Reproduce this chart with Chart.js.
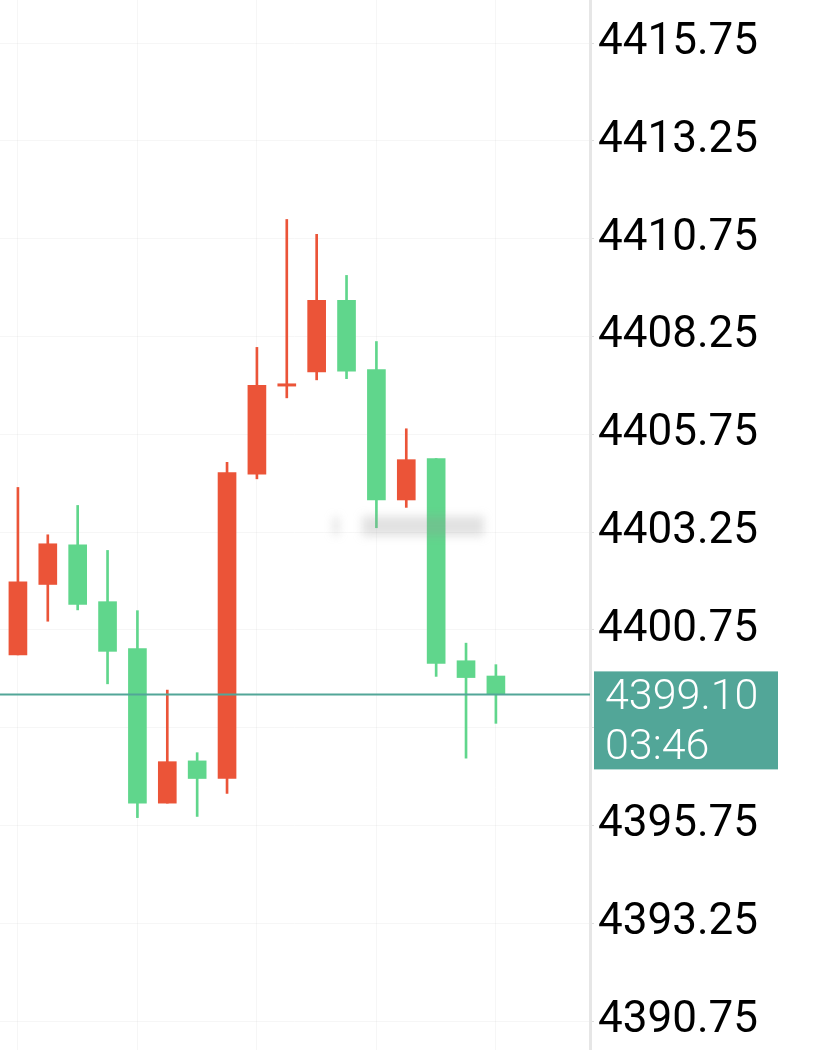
<!DOCTYPE html>
<html>
<head>
<meta charset="utf-8">
<title>Candles</title>
<script src="https://cdn.jsdelivr.net/npm/chart.js@4/dist/chart.umd.min.js"></script>
<style>
  html, body { margin: 0; padding: 0; background: #fff; }
  #wrap { position: relative; width: 813px; height: 1050px; }
</style>
</head>
<body>
<div id="wrap"><canvas id="kline"></canvas></div>
<script>
(function () {
  "use strict";

  // OHLC per minute bar, oldest first (red = up, green = down)
  var opens  = [4400.11, 4401.91, 4402.92, 4401.47, 4400.27, 4396.32, 4397.40, 4396.95, 4404.73, 4406.98, 4407.34, 4409.17, 4407.40, 4404.07, 4405.13, 4399.96, 4399.57];
  var highs  = [4404.39, 4403.18, 4403.93, 4402.78, 4401.24, 4399.21, 4397.61, 4405.03, 4407.97, 4411.24, 4410.86, 4409.81, 4408.12, 4405.89, 4405.13, 4400.41, 4399.86];
  var lows   = [4400.11, 4400.97, 4401.26, 4399.37, 4395.95, 4396.32, 4395.98, 4396.57, 4404.61, 4406.68, 4407.14, 4407.17, 4403.36, 4403.88, 4399.56, 4397.47, 4398.36];
  var closes = [4401.98, 4402.95, 4401.40, 4400.20, 4396.32, 4397.38, 4396.95, 4404.77, 4407.00, 4407.04, 4409.17, 4407.36, 4404.07, 4405.10, 4399.89, 4399.53, 4399.10];

  var yTicks = [4390.75, 4393.25, 4395.75, 4398.25, 4400.75, 4403.25, 4405.75, 4408.25, 4410.75, 4413.25, 4415.75];
  var xGridAt = [0, 4, 8, 12, 16];

  var lastPrice = 4399.10;
  var countdown = "03:46";

  var UP = "#eb5438";
  var DOWN = "#60d68c";
  var TEAL = "#52a698";

  function colorAt(i) {
    return closes[i] >= opens[i] ? UP : DOWN;
  }

  var wicks = opens.map(function (o, i) { return { x: i, y: [lows[i], highs[i]] }; });
  var bodies = opens.map(function (o, i) { return { x: i, y: [o, closes[i]] }; });

  var priceTag = {
    id: "priceTag",
    afterDatasetsDraw: function (chart) {
      var ctx = chart.ctx;
      // blurred watermark left by the app
      ctx.save();
      ctx.filter = "blur(5px)";
      ctx.fillStyle = "rgba(150,150,150,0.28)";
      ctx.fillRect(333, 517, 6, 18);
      ctx.fillRect(362, 516, 122, 20);
      ctx.restore();
    },
    afterDraw: function (chart) {
      var ctx = chart.ctx;
      var area = chart.chartArea;
      var y = chart.scales.y.getPixelForValue(lastPrice);
      ctx.save();
      ctx.strokeStyle = TEAL;
      ctx.lineWidth = 2;
      ctx.beginPath();
      ctx.moveTo(area.left, y);
      ctx.lineTo(area.right, y);
      ctx.stroke();

      var top = y - 23;
      ctx.fillStyle = TEAL;
      ctx.fillRect(area.right + 4, top, 184, 98);
      ctx.fillStyle = "#fff";
      ctx.font = "300 43px Roboto";
      ctx.textAlign = "left";
      ctx.textBaseline = "alphabetic";
      ctx.fillText(lastPrice.toFixed(2), area.right + 15, top + 38);
      ctx.fillText(countdown, area.right + 15, top + 88);
      ctx.restore();
    }
  };

  function init() {
    var canvas = document.getElementById("kline");
    new Chart(canvas, {
      type: "bar",
      data: {
        datasets: [
          {
            label: "wick",
            data: wicks,
            backgroundColor: function (c) { return colorAt(c.dataIndex); },
            barThickness: 2,
            grouped: false,
            order: 2
          },
          {
            label: "body",
            data: bodies,
            backgroundColor: function (c) { return colorAt(c.dataIndex); },
            barThickness: 18,
            grouped: false,
            order: 1
          }
        ]
      },
      options: {
        responsive: true,
        maintainAspectRatio: false,
        animation: false,
        layout: { padding: 0 },
        plugins: { legend: { display: false }, tooltip: { enabled: false } },
        scales: {
          x: {
            type: "linear",
            min: -0.6,
            max: 19.15,
            offset: false,
            afterBuildTicks: function (s) {
              s.ticks = xGridAt.map(function (v) { return { value: v }; });
            },
            afterFit: function (s) {
              s.height = 0;
              s.paddingLeft = 0;
              s.paddingRight = 0;
            },
            ticks: { display: false },
            border: { display: false },
            grid: { color: "rgba(0,0,0,0.035)", drawTicks: false, offset: false }
          },
          y: {
            position: "right",
            min: 4390.01,
            max: 4416.85,
            afterBuildTicks: function (s) {
              s.ticks = yTicks.map(function (v) { return { value: v }; });
            },
            afterFit: function (s) {
              s.width = 223;
              s.paddingTop = 0;
              s.paddingBottom = 0;
            },
            border: { display: true, color: "#e6e6e6", width: 3 },
            grid: { color: "rgba(0,0,0,0.035)", tickColor: "#dddddd", tickLength: 4 },
            ticks: {
              padding: 4,
              color: "#000",
              font: { family: "Roboto", size: 44 },
              callback: function (v) { return Number(v).toFixed(2); }
            }
          }
        }
      },
      plugins: [priceTag]
    });
  }

  if (document.readyState === "loading") {
    document.addEventListener("DOMContentLoaded", init);
  } else {
    init();
  }
})();
</script>
</body>
</html>
